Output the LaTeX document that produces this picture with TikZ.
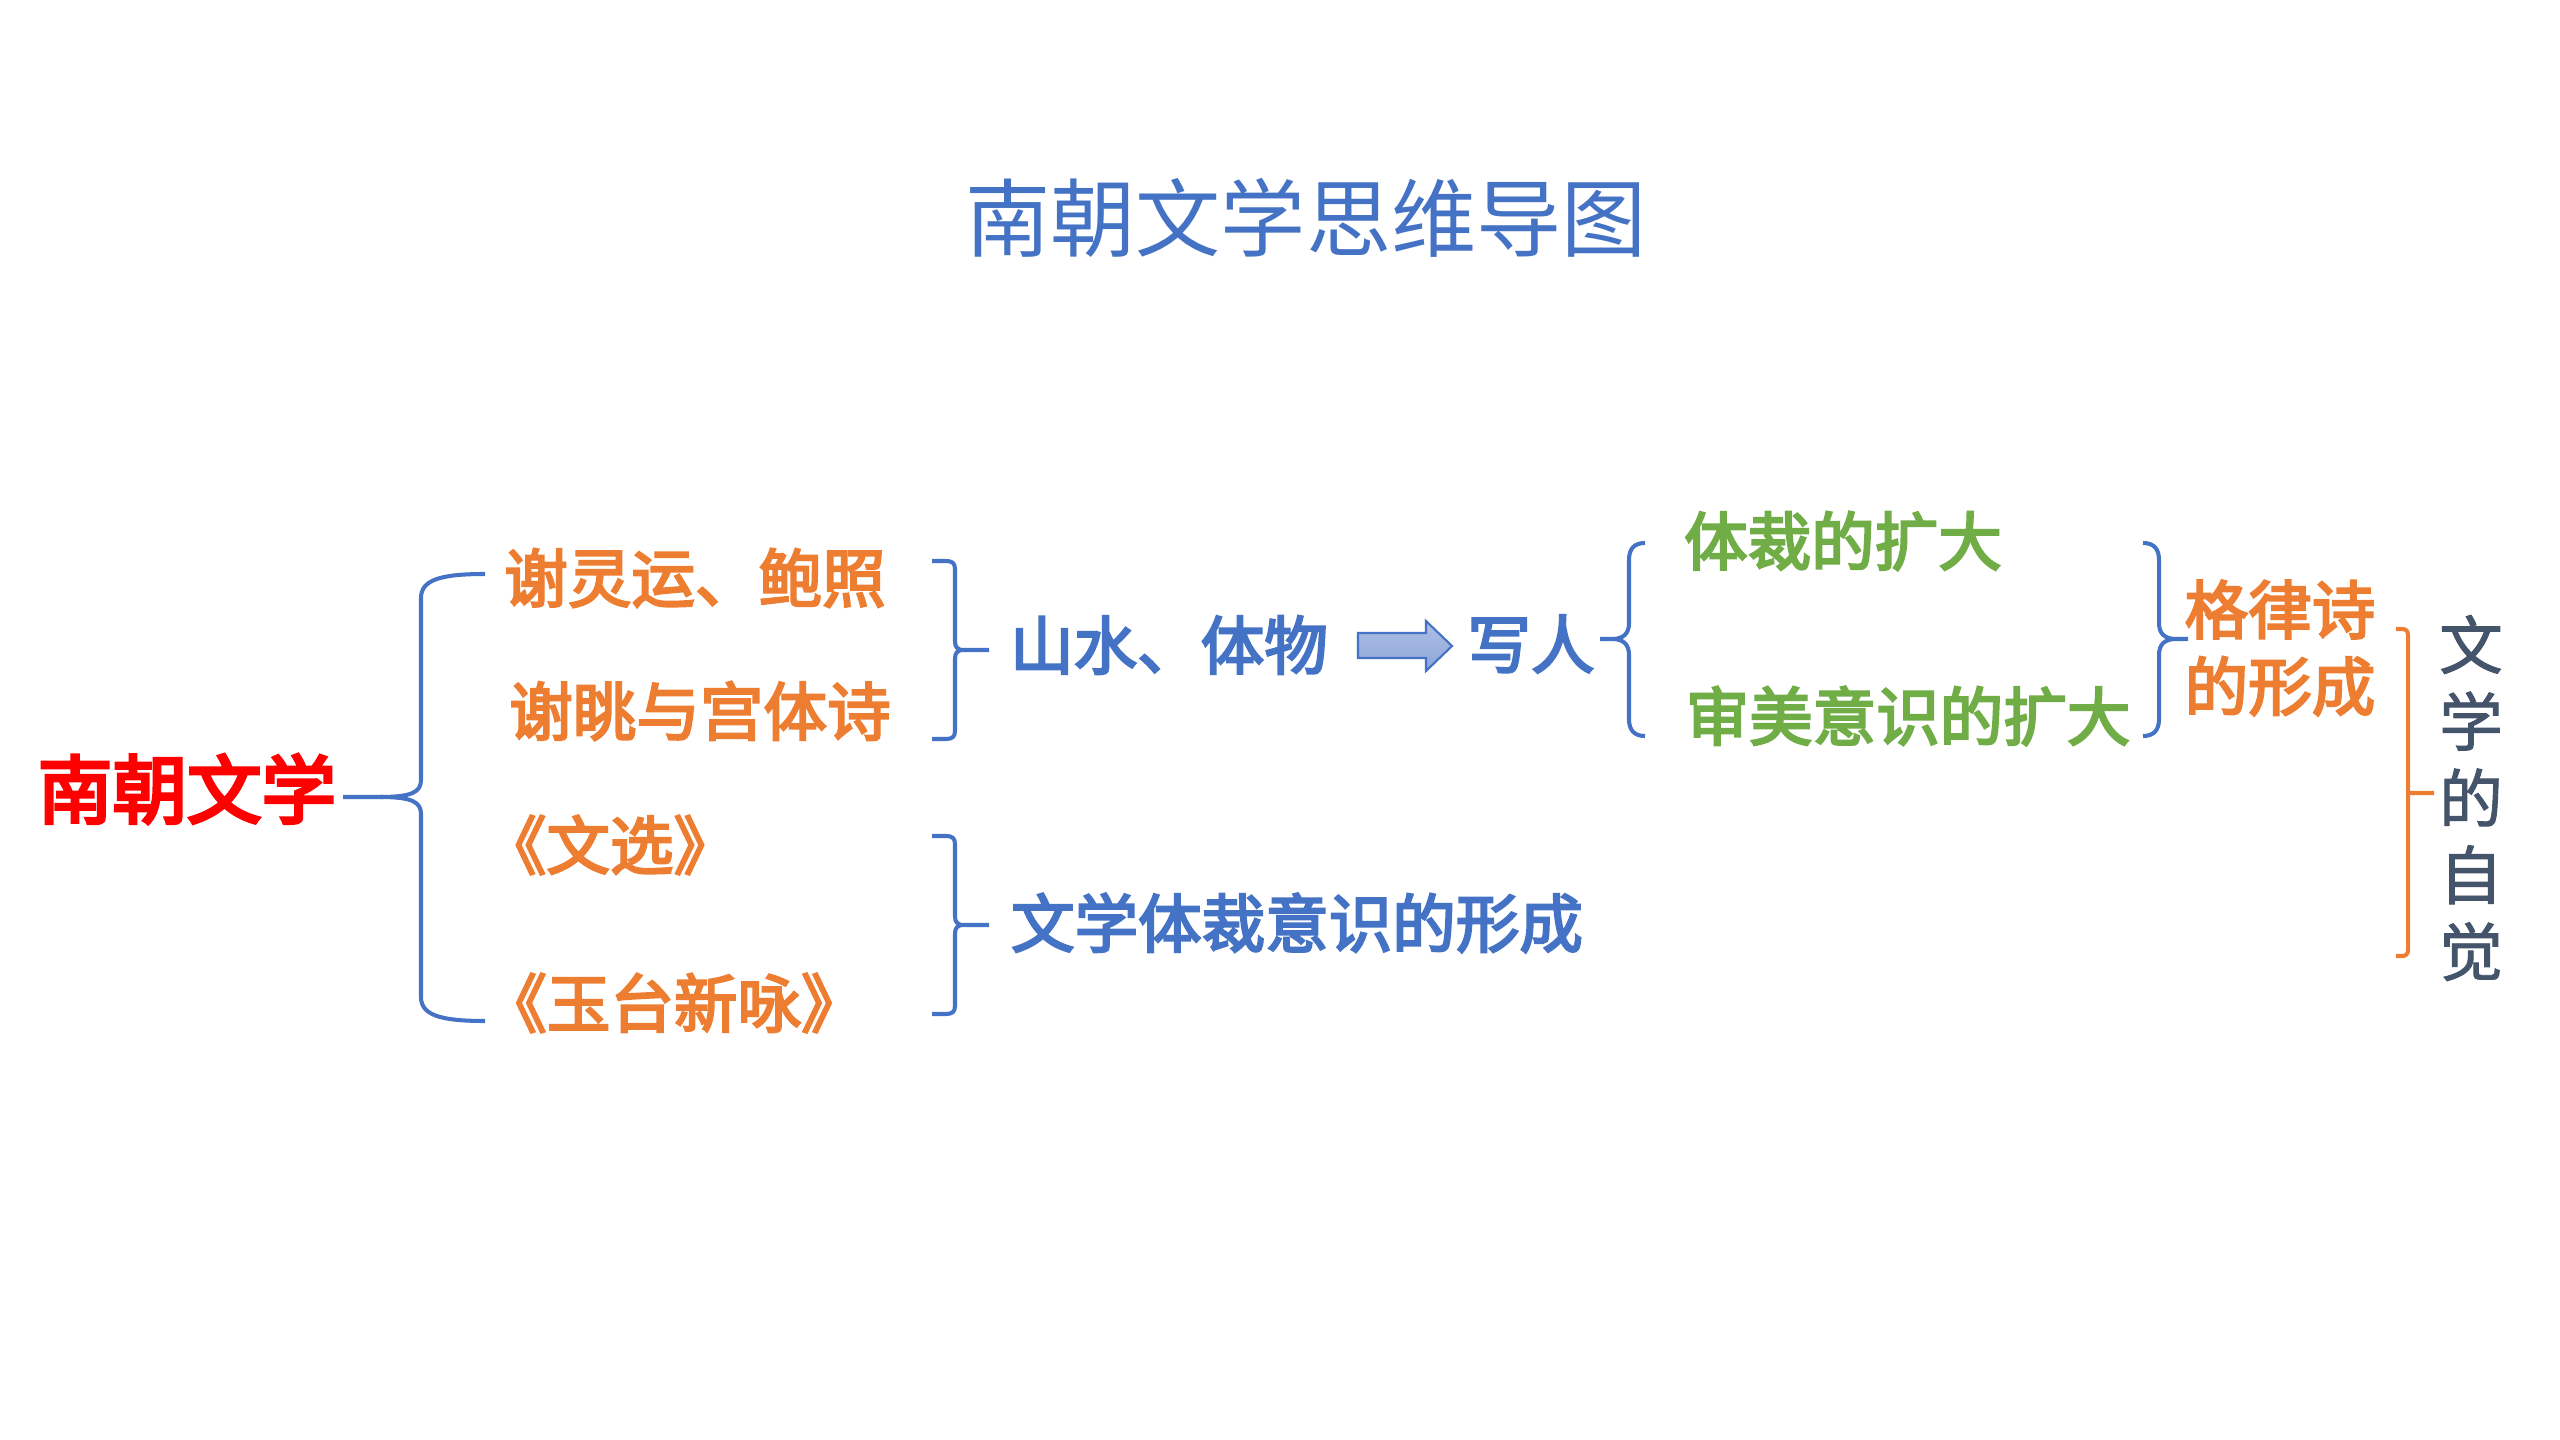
\documentclass[tikz,border=0pt]{standalone}
\usepackage{fontspec}
\newfontfamily\cjk{Noto Sans CJK SC}
\newfontfamily\cjkm[FakeBold=3.5]{Noto Sans CJK SC}
\newfontfamily\cjkr[FakeBold=4.5]{Noto Sans CJK SC}
\newfontfamily\cjks[FakeBold=1.5]{Noto Sans CJK SC}
\definecolor{cblue}{HTML}{4472C4}
\definecolor{corange}{HTML}{ED7D31}
\definecolor{cgreen}{HTML}{70AD47}
\definecolor{cred}{HTML}{FF0000}
\definecolor{cslate}{HTML}{44546A}
\definecolor{arrtop}{HTML}{AFC0E6}
\definecolor{arrbot}{HTML}{8EA5D8}
\begin{document}
\begin{tikzpicture}[x=0.01cm,y=-0.01cm,
  txt/.style={inner sep=0pt, anchor=center, align=center, font=\cjkm\fontsize{18.07}{21.8}\selectfont},
  titletxt/.style={inner sep=0pt, anchor=center, text=cblue, font=\cjk\fontsize{24.2}{28}\selectfont},
  roottxt/.style={inner sep=0pt, anchor=center, text=cred, font=\cjkr\fontsize{21.2}{25}\selectfont},
  otxt/.style={txt, text=corange},
  btxt/.style={txt, text=cblue},
  gtxt/.style={txt, text=cgreen},
  stxt/.style={txt, text=cslate, font=\cjks\fontsize{18.07}{21.8}\selectfont},
  bl/.style={draw=cblue, line width=1.15pt, line join=round},
  ob/.style={draw=corange, line width=1.15pt, line join=round},
  blockarrow/.style={draw=cblue, line width=0.6pt, top color=arrtop, bottom color=arrbot}
]
\useasboundingbox[fill=white] (0,0) rectangle (2560,1440);

% texts
\node[titletxt] (title) at (1306,218) {南朝文学思维导图};
\node[roottxt] (root) at (187,789) {南朝文学};
\node[otxt] (a1) at (695,578) {谢灵运、鲍照};
\node[otxt] (a2) at (700,711) {谢眺与宫体诗};
\node[otxt] (a3) at (610,845) {《文选》};
\node[otxt] (a4) at (674,1003) {《玉台新咏》};
\node[btxt] (b1) at (1169,645) {山水、体物};
\node[btxt] (b2) at (1531,644) {写人};
\node[btxt] (c1) at (1297,923) {文学体裁意识的形成};
\node[gtxt] (g1) at (1843,541) {体裁的扩大};
\node[gtxt] (g2) at (1908,716) {审美意识的扩大};
\node[otxt] (f1) at (2280,648) {格律诗\\的形成};
\node[stxt] (z1) at (2471,798) {文\\学\\的\\自\\觉};

% big left brace
\draw[bl] (343,797) -- (380,797) .. controls (412,797) and (421,792) .. (421,780) -- (421,598) .. controls (421,580) and (440,574) .. (485,574);
\draw[bl] (380,797) .. controls (412,797) and (421,802) .. (421,814) -- (421,997) .. controls (421,1015) and (440,1021) .. (485,1021);

% brace after a1/a2
\draw[bl] (932,561) -- (946,561) .. controls (952,561) and (955,563) .. (955,569) -- (955,641) .. controls (955,647) and (957,650) .. (964,650) -- (989,650)
          (964,650) .. controls (957,650) and (955,653) .. (955,659) -- (955,731) .. controls (955,737) and (952,739) .. (946,739) -- (932,739);
% brace after a3/a4
\draw[bl] (932,836) -- (946,836) .. controls (952,836) and (955,838) .. (955,844) -- (955,916) .. controls (955,922) and (957,925) .. (964,925) -- (989,925)
          (964,925) .. controls (957,925) and (955,928) .. (955,934) -- (955,1006) .. controls (955,1012) and (952,1014) .. (946,1014) -- (932,1014);

% block arrow
\draw[blockarrow] (1358,633) -- (1426,633) -- (1426,621) -- (1452,646) -- (1426,671) -- (1426,658) -- (1358,658) -- cycle;

% opening brace before green texts
\draw[bl] (1645,543) .. controls (1634,543) and (1629,549) .. (1629,560) -- (1629,623) .. controls (1629,633) and (1624,639) .. (1612,639) -- (1600,639)
          (1612,639) .. controls (1624,639) and (1629,645) .. (1629,655) -- (1629,719) .. controls (1629,730) and (1634,736) .. (1645,736);

% closing brace after green texts
\draw[bl] (2143,543) .. controls (2154,543) and (2159,549) .. (2159,560) -- (2159,623) .. controls (2159,633) and (2164,639) .. (2176,639) -- (2188,639)
          (2176,639) .. controls (2164,639) and (2159,645) .. (2159,655) -- (2159,719) .. controls (2159,730) and (2154,736) .. (2143,736);

% orange bracket
\draw[ob] (2396,629) -- (2402,629) .. controls (2406,629) and (2408,631) .. (2408,635) -- (2408,950) .. controls (2408,954) and (2406,956) .. (2402,956) -- (2396,956)
          (2408,793) -- (2434,793);
\end{tikzpicture}
\end{document}
